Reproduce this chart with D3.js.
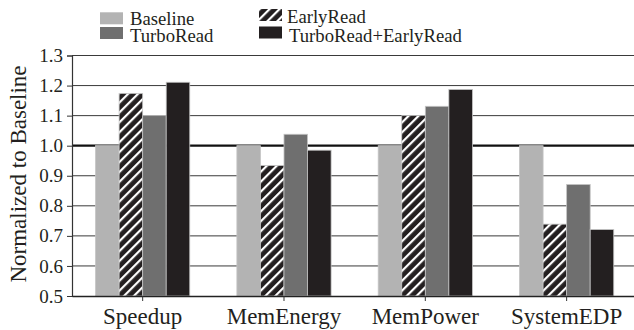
<!DOCTYPE html>
<html>
<head>
<meta charset="utf-8">
<script src="https://cdn.jsdelivr.net/npm/d3@7"></script>
<style>
  html, body { margin: 0; padding: 0; background: #fff; }
  svg { display: block; }
  text { font-family: "Liberation Serif", "Times New Roman", serif; fill: #231f20; }
</style>
</head>
<body>
<svg id="chart" width="634" height="330"></svg>
<script>
// Metrics and configurations
const categories = ["Speedup", "MemEnergy", "MemPower", "SystemEDP"];
const series = ["Baseline", "EarlyRead", "TurboRead", "TurboRead+EarlyRead"];

// Values normalized to Baseline, one array per configuration
const baseline      = [1.000, 1.000, 1.000, 1.000];
const earlyRead     = [1.174, 0.934, 1.100, 0.739];
const turboRead     = [1.100, 1.038, 1.131, 0.871];
const turboEarly    = [1.211, 0.985, 1.187, 0.721];

const yTicks = [0.5, 0.6, 0.7, 0.8, 0.9, 1.0, 1.1, 1.2, 1.3];

const seriesValues = [baseline, earlyRead, turboRead, turboEarly];
const fills = ["#b3b3b3", "url(#hatch)", "#6f6f6f", "#231f20"];

const svg = d3.select("#chart");

// Diagonal hatch for EarlyRead
const defs = svg.append("defs");
const pat = defs.append("pattern")
  .attr("id", "hatch")
  .attr("patternUnits", "userSpaceOnUse")
  .attr("width", 7).attr("height", 7)
  .attr("patternTransform", "rotate(45)");
pat.append("rect").attr("width", 7).attr("height", 7).attr("fill", "#231f20");
pat.append("rect").attr("x", 0).attr("width", 2.2).attr("height", 7).attr("fill", "#fff");

const plotL = 72, plotR = 637.3, plotT = 55.5, plotB = 296;

const x = d3.scaleBand().domain(categories).range([plotL, plotR]).padding(0);
const xs = d3.scaleBand().domain(series).range([0, x.bandwidth()])
  .paddingInner(0).paddingOuter(1);
const y = d3.scaleLinear().domain([0.5, 1.3]).range([plotB, plotT]);

// Horizontal grid
svg.append("g").selectAll("line")
  .data(yTicks.filter(v => v !== 0.5 && v !== 1.0))
  .join("line")
  .attr("x1", plotL).attr("x2", 634)
  .attr("y1", d => y(d)).attr("y2", d => y(d))
  .attr("stroke", "#3a3a3a").attr("stroke-width", 1);

// Reference line at 1.0
svg.append("line")
  .attr("x1", plotL).attr("x2", 634)
  .attr("y1", y(1.0)).attr("y2", y(1.0))
  .attr("stroke", "#111").attr("stroke-width", 2.2);

// Bars
const rows = categories.map((c, i) => ({ c, vals: seriesValues.map(s => s[i]) }));
const groups = svg.append("g").selectAll("g")
  .data(rows).join("g")
  .attr("transform", d => `translate(${x(d.c)},0)`);
groups.selectAll("rect")
  .data(d => d.vals.map((v, k) => ({ v, k })))
  .join("rect")
  .attr("x", d => xs(series[d.k]))
  .attr("width", xs.bandwidth())
  .attr("y", d => y(d.v))
  .attr("height", d => y(0.5) - y(d.v))
  .attr("fill", d => fills[d.k])
  .attr("stroke", "#c4c4c4")
  .attr("stroke-width", 0.8);

// Y axis
const yAxis = svg.append("g")
  .attr("transform", `translate(${plotL},0)`)
  .call(d3.axisLeft(y).tickValues(yTicks).tickFormat(d3.format(".1f")).tickSize(5).tickPadding(4));
yAxis.select(".domain").attr("stroke", "#333").attr("stroke-width", 1.2);
yAxis.selectAll(".tick line").attr("stroke", "#333");
yAxis.selectAll("text").attr("font-size", 19).attr("font-family", "Liberation Serif").attr("fill", "#231f20");

// X axis
const xAxis = svg.append("g")
  .attr("transform", `translate(0,${plotB})`)
  .call(d3.axisBottom(x).tickSize(5).tickPadding(7).tickSizeOuter(0));
xAxis.select(".domain").attr("stroke", "#222").attr("stroke-width", 1.5);
xAxis.selectAll(".tick line").attr("stroke", "#333");
xAxis.selectAll("text").attr("font-size", 23).attr("font-family", "Liberation Serif").attr("fill", "#231f20");

// Y axis title
svg.append("text")
  .attr("transform", `translate(25.5,174) rotate(-90)`)
  .attr("text-anchor", "middle")
  .attr("font-size", 23)
  .text("Normalized to Baseline");

// Legend
const legend = [
  { name: "Baseline", k: 0, sx: 100, sy: 12.3, tx: 130, ty: 25 },
  { name: "TurboRead", k: 2, sx: 100, sy: 27, tx: 130, ty: 42 },
  { name: "EarlyRead", k: 1, sx: 259, sy: 9, tx: 287, ty: 22.5 },
  { name: "TurboRead+EarlyRead", k: 3, sx: 259, sy: 26.5, tx: 289, ty: 41.5 }
];
const lg = svg.append("g").selectAll("g").data(legend).join("g");
lg.append("rect")
  .attr("x", d => d.sx).attr("y", d => d.sy)
  .attr("width", 23).attr("height", 12)
  .attr("fill", d => fills[d.k]);
lg.append("text")
  .attr("x", d => d.tx).attr("y", d => d.ty)
  .attr("font-size", 18.7)
  .text(d => d.name);
</script>
</body>
</html>
